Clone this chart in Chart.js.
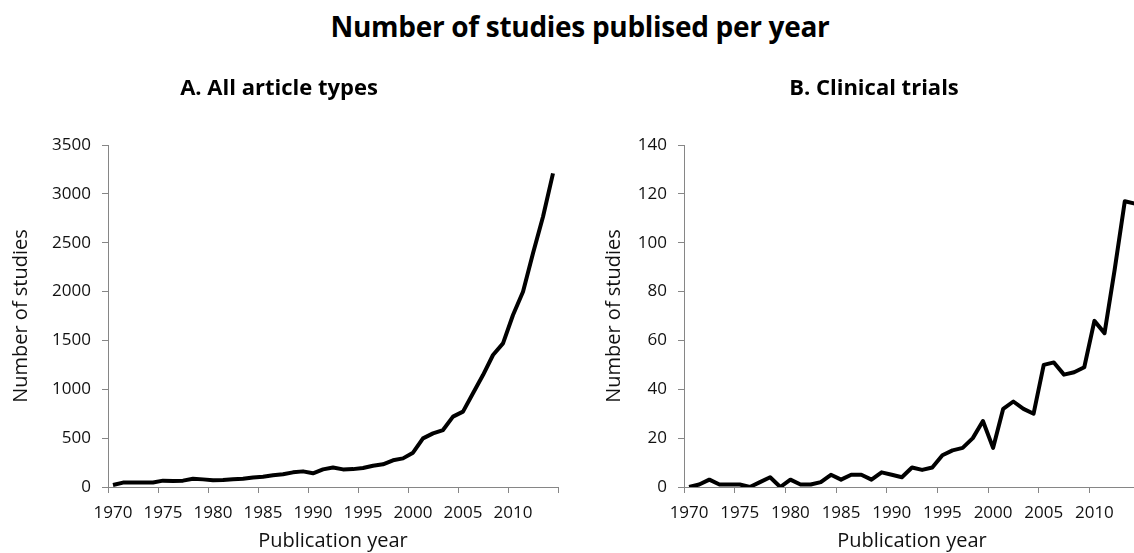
<!DOCTYPE html>
<html>
<head>
<meta charset="utf-8">
<script src="https://cdn.jsdelivr.net/npm/chart.js@4"></script>
<style>
  html, body { margin: 0; padding: 0; background: #fff; overflow: hidden; width: 1134px; height: 553px; }
  #wrap { position: relative; width: 1134px; height: 553px; overflow: hidden; }
  #mainTitle { position: absolute; left: 0; top: 12px; width: 1160px; text-align: center;
    font-family: "Open Sans", sans-serif; font-weight: 700; font-size: 28px; line-height: 28px; color: #000; letter-spacing: -0.3px; }
  canvas { position: absolute; top: 0; }
  #cA { left: 0; }
  #cB { left: 580px; }
</style>
</head>
<body>
<div id="wrap">
  <div id="mainTitle">Number of studies publised per year</div>
  <canvas id="cA" width="567" height="553" style="width:567px;height:553px"></canvas>
  <canvas id="cB" width="580" height="553" style="width:580px;height:553px"></canvas>
</div>
<script>
// ---- Data ----
const years = [];
for (let y = 1970; y <= 2014; y++) years.push(String(y));

const allArticles = [20, 45, 45, 45, 47, 65, 62, 65, 85, 78,
                     70, 72, 80, 85, 98, 105, 120, 130, 150, 160,
                     140, 180, 200, 180, 183, 195, 218, 232, 273, 293,
                     351, 498, 549, 583, 720, 771, 959, 1146, 1351, 1470,
                     1760, 1999, 2392, 2766, 3210];

const clinicalTrials = [0, 1, 3, 1, 1, 1, 0, 2, 4, 0,
                        3, 1, 1, 2, 5, 3, 5, 5, 3, 6,
                        5, 4, 8, 7, 8, 13, 15, 16, 20, 27,
                        16, 32, 35, 32, 30, 50, 51, 46, 47, 49,
                        68, 63, 89, 117, 116];

const yTicksA = { max: 3500, step: 500 };
const yTicksB = { max: 140, step: 20 };

// ---- Styles ----
const AXIS = '#868686';
const TEXT = '#111';
const tickFont = { family: '"Open Sans", sans-serif', size: 17 };
const axisTitleFont = { family: '"Open Sans", sans-serif', size: 20 };

function makeChart(canvasId, title, values, yt, opts) {
  return new Chart(document.getElementById(canvasId), {
    type: 'line',
    data: {
      labels: years,
      datasets: [{
        data: values,
        borderColor: '#000',
        borderWidth: 4,
        pointRadius: 0,
        tension: 0,
        fill: false,
        borderJoinStyle: 'round',
        borderCapStyle: 'butt'
      }]
    },
    options: {
      responsive: false,
      animation: false,
      devicePixelRatio: 1,
      layout: { padding: { left: opts.padLeft, right: opts.padRight, top: 0, bottom: 0 } },
      plugins: {
        legend: { display: false },
        tooltip: { enabled: false },
        title: {
          display: true,
          text: title,
          color: '#000',
          font: { family: '"Open Sans", sans-serif', size: 22, weight: '700' },
          padding: { top: 75.8, bottom: 42.8 }
        }
      },
      scales: {
        x: {
          type: 'category',
          offset: true,
          afterFit: s => { s.height = 66; },
          grid: {
            offset: true,
            drawOnChartArea: false,
            drawTicks: true,
            tickLength: 6,
            color: ctx => (ctx.type !== 'tick' || ctx.index % 5 === 0) ? AXIS : 'rgba(0,0,0,0)',
            tickColor: ctx => (ctx.type !== 'tick' || ctx.index % 5 === 0) ? AXIS : 'rgba(0,0,0,0)'
          },
          border: { color: AXIS, width: 1 },
          ticks: {
            autoSkip: false,
            maxRotation: 0,
            minRotation: 0,
            padding: 10,
            color: TEXT,
            font: tickFont,
            callback: (v, i) => (i % 5 === 0 ? years[i] : '')
          },
          title: {
            display: true,
            text: 'Publication year',
            color: TEXT,
            font: axisTitleFont,
            padding: { top: 0, bottom: 0 }
          }
        },
        y: {
          min: 0,
          max: yt.max,
          afterFit: s => { s.width = opts.yWidth; },
          grid: {
            drawOnChartArea: false,
            drawTicks: true,
            tickLength: 6,
            color: AXIS,
            tickColor: AXIS
          },
          border: { color: AXIS, width: 1 },
          ticks: {
            stepSize: yt.step,
            padding: 11,
            color: TEXT,
            font: tickFont,
            callback: v => String(v)
          },
          title: {
            display: true,
            text: 'Number of studies',
            color: TEXT,
            font: Object.assign({}, axisTitleFont, { lineHeight: opts.yTitleLH }),
            padding: { top: opts.yTitlePad, bottom: 0 }
          }
        }
      }
    }
  });
}

makeChart('cA', 'A. All article types', allArticles, yTicksA,
  { padLeft: 0, padRight: 9, yWidth: 108, yTitleLH: 1.2, yTitlePad: 9 });
makeChart('cB', 'B. Clinical trials', clinicalTrials, yTicksB,
  { padLeft: 28, padRight: 20, yWidth: 76, yTitleLH: 0.6, yTitlePad: 0 });
</script>
</body>
</html>
